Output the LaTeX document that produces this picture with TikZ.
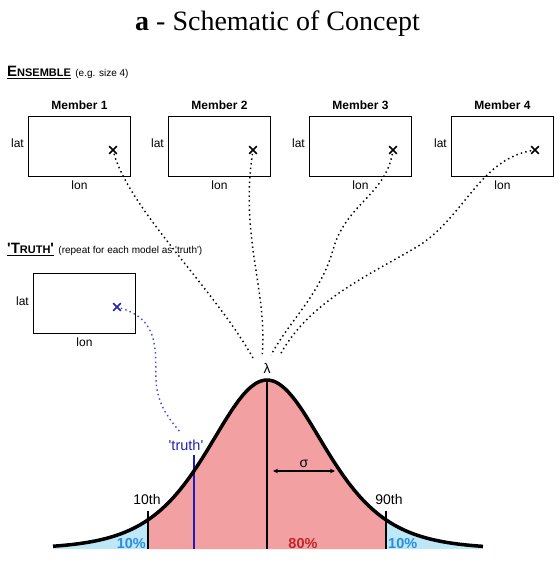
\documentclass[tikz,border=0pt]{standalone}
\usepackage{fontspec}
\setmainfont{Liberation Serif}
\setsansfont{Liberation Sans}
\usetikzlibrary{arrows.meta,shapes.misc}
\definecolor{pinkfill}{HTML}{F2A0A2}
\definecolor{tailblue}{HTML}{BEE8F8}
\definecolor{pctblue}{HTML}{2B8CE0}
\definecolor{pctred}{HTML}{C1272D}
\definecolor{truthblue}{HTML}{2222B0}
\definecolor{dotblue}{HTML}{4B4BD0}
\newcommand{\sq}{\textquotesingle}
\begin{document}
\begin{tikzpicture}[x=1pt,y=-1pt,
  mapbox/.style={draw, line width=1.5pt, minimum width=102pt, minimum height=60pt, inner sep=0pt},
  memlabel/.style={font=\sffamily\bfseries\fontsize{12}{14}\selectfont, inner sep=0pt, anchor=base},
  axlabel/.style={font=\sffamily\fontsize{12}{14}\selectfont, inner sep=0pt},
  xmark/.style={draw, cross out, line width=1.6pt, minimum size=6pt, inner sep=0pt},
  conn/.style={line width=1.45pt, dash pattern=on 1.45pt off 3.2pt},
  note/.style={font=\sffamily\fontsize{10}{12}\selectfont, inner sep=0pt, anchor=base west},
  distlabel/.style={font=\sffamily\fontsize{14}{16}\selectfont, inner sep=0pt, anchor=base},
  pct/.style={font=\sffamily\bfseries\fontsize{14.5}{16}\selectfont, inner sep=0pt, anchor=base},
]
\useasboundingbox (0,0) rectangle (557,565);

% title
\node[font=\fontsize{28}{30}\selectfont, anchor=base, inner sep=0pt] (title) at (277.5,30) {\textbf{a} - Schematic of Concept};

% ensemble heading
\node[anchor=base west, inner sep=0pt, font=\sffamily\bfseries] (enshead) at (7,76)
  {{\fontsize{15}{15}\selectfont E}{\fontsize{11}{11}\selectfont NSEMBLE}};
\draw[line width=1.2pt] ([yshift=-2.6pt]enshead.base west) -- ([yshift=-2.6pt]enshead.base east);
\node[note] (ensnote) at ([xshift=4pt]enshead.base east) {(e.g. size 4)};

% member boxes
\foreach \i/\cx/\mx in {1/79.5/113, 2/219.5/253, 3/360.5/393, 4/502.5/535} {
  \node[mapbox] (m\i) at (\cx,146.5) {};
  \node[memlabel] (m\i t) at (\cx,109) {Member \i};
  \node[axlabel, anchor=base east] (m\i lat) at (\cx-55.5,147) {lat};
  \node[axlabel, anchor=base] (m\i lon) at (\cx,189) {lon};
  \node[xmark] (x\i) at (\mx,150) {};
}

% truth heading
\node[anchor=base west, inner sep=0pt, font=\sffamily\bfseries] (truthhead) at (7,253)
  {{\fontsize{15}{15}\selectfont \sq T}{\fontsize{11}{11}\selectfont RUTH}{\fontsize{15}{15}\selectfont \sq}};
\draw[line width=1.2pt] ([yshift=-2.6pt]truthhead.base west) -- ([yshift=-2.6pt]truthhead.base east);
\node[note] (truthnote) at ([xshift=4pt]truthhead.base east) {(repeat for each model as \sq truth\sq)};

% truth box
\node[mapbox] (tb) at (84.5,303.5) {};
\node[axlabel, anchor=base east] (tblat) at (29,305) {lat};
\node[axlabel, anchor=base] (tblon) at (84.5,346) {lon};
\node[xmark, draw=truthblue] (xt) at (117,307) {};

% distribution fills
\fill[tailblue] (53,549) -- plot[domain=53:148, samples=60] (\x, {549-169/(cosh((\x-267)/78))^2}) -- (148,549) -- cycle;
\fill[tailblue] (386,549) -- plot[domain=386:483, samples=60] (\x, {549-169/(cosh((\x-267)/78))^2}) -- (483,549) -- cycle;
\fill[pinkfill] (148,549) -- plot[domain=148:386, samples=120] (\x, {549-169/(cosh((\x-267)/78))^2}) -- (386,549) -- cycle;

% vertical lines
\coordinate (peak) at (267,380);
\coordinate (base0) at (267,549);
\draw[line width=1.3pt] (peak) -- (base0);
\coordinate (p10top) at (148,511);
\coordinate (p10bot) at (148,549);
\draw[line width=1.3pt] (p10top) -- (p10bot);
\coordinate (p90top) at (386,511);
\coordinate (p90bot) at (386,549);
\draw[line width=1.3pt] (p90top) -- (p90bot);
\coordinate (truthtop) at (194,455);
\coordinate (truthbot) at (194,549);
\draw[line width=1.5pt, color=truthblue!85!blue] (truthtop) -- (truthbot);

% curve
\draw[line width=3.5pt] plot[domain=53:483, samples=200] (\x, {549-169/(cosh((\x-267)/78))^2});

% sigma arrow
\coordinate (sigL) at (273,471);
\coordinate (sigR) at (335,471);
\draw[line width=1.2pt, {Stealth[length=5pt,width=4.5pt]}-{Stealth[length=5pt,width=4.5pt]}] (sigL) -- (sigR);
\node[distlabel] (sig) at (304,467) {σ};

% labels
\node[distlabel] (lam) at (267,373) {λ};
\node[distlabel] (l10) at (147,504) {10th};
\node[distlabel] (l90) at (389,504) {90th};
\node[distlabel, text=truthblue, font=\sffamily\fontsize{14.5}{16}\selectfont] (ltruth) at (186,450) {\sq truth\sq};
\node[pct, anchor=base east, text=pctblue] (pl) at (146,548) {10\%};
\node[pct, text=pctred] (pm) at (303,548) {80\%};
\node[pct, anchor=base west, text=pctblue] (pr) at (388,548) {10\%};

% connectors
\coordinate (e1) at (253,358);
\coordinate (e2) at (262,357);
\coordinate (e3) at (271,355);
\coordinate (e4) at (280,355);
\coordinate (et) at (181,433);
\draw[conn] (x1) .. controls (130,210) and (215,290) .. (e1);
\draw[conn] (x2) .. controls (240,240) and (268,290) .. (e2);
\draw[conn] (x3) .. controls (385,195) and (345,205) .. (333,250) .. controls (320,295) and (290,320) .. (e3);
\draw[conn] (x4) .. controls (480,160) and (465,215) .. (420,245) .. controls (370,275) and (310,300) .. (e4);
\draw[conn, color=dotblue] (xt) .. controls (160,320) and (155,350) .. (156,380) .. controls (157,405) and (170,420) .. (et);
\end{tikzpicture}
\end{document}
